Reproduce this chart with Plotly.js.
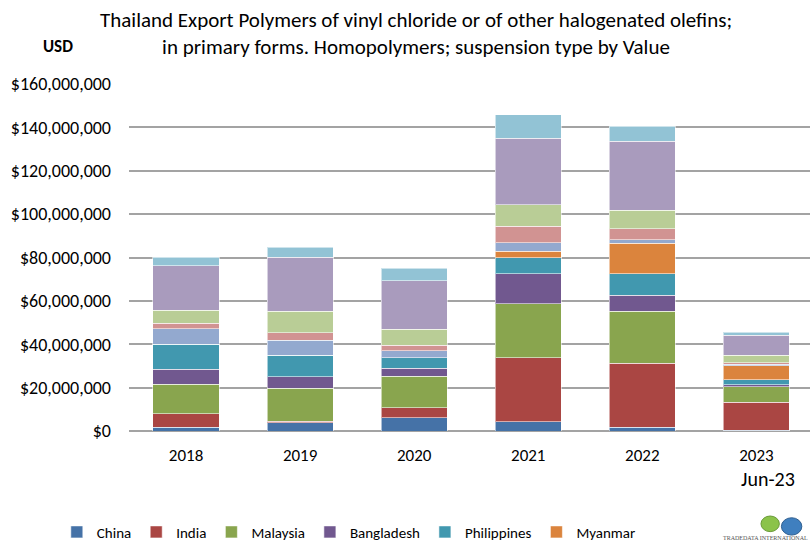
<!DOCTYPE html>
<html>
<head>
<meta charset="utf-8">
<script src="https://cdn.plot.ly/plotly-3.0.1.min.js"></script>
<style>html,body{margin:0;padding:0;background:#fff;}#chart{width:810px;height:543px;}</style>
</head>
<body>
<div id="chart"></div>
<script>
// Categories (years)
var years = ["2018", "2019", "2020", "2021", "2022", "2023"];
// Values in USD
var china       = [1700000, 3700000, 6100000, 4300000, 1800000, 300000];
var india       = [6300000, 900000, 4600000, 29500000, 29500000, 12900000];
var malaysia    = [13500000, 15200000, 14500000, 24800000, 24000000, 7200000];
var bangladesh  = [6900000, 5200000, 3700000, 14000000, 7400000, 900000];
var philippines = [11500000, 10000000, 4900000, 7400000, 9800000, 2300000];
var myanmar     = [0, 0, 0, 2800000, 14000000, 6600000];
var seriesG     = [7200000, 6800000, 3200000, 3900000, 1800000, 600000];
var seriesH     = [2600000, 3500000, 2500000, 7700000, 4900000, 700000];
var seriesI     = [5900000, 10000000, 7500000, 10000000, 8600000, 3500000];
var seriesJ     = [20600000, 24900000, 22300000, 30600000, 31900000, 9100000];
var seriesK     = [3900000, 4600000, 5700000, 10800000, 6800000, 1500000];

var names = ["China", "India", "Malaysia", "Bangladesh", "Philippines", "Myanmar",
             "Other 1", "Other 2", "Other 3", "Other 4", "Other 5"];
var data = [china, india, malaysia, bangladesh, philippines, myanmar,
            seriesG, seriesH, seriesI, seriesJ, seriesK];
var colors = ["#4572A7", "#AA4643", "#89A54E", "#71588F", "#4198AF", "#DB843D",
              "#93A9CF", "#D19392", "#B9CD96", "#A99BBD", "#92C3D5"];

var font = "Carlito, Calibri, Lato, 'Noto Sans', sans-serif";

var traces = data.map(function (vals, i) {
  return {
    type: "bar",
    name: names[i],
    x: years,
    y: vals,
    marker: {color: colors[i], line: {color: "rgba(255,255,255,0.55)", width: 1}},
    showlegend: i < 6,
    hoverinfo: "x+y+name"
  };
});

var layout = {
  width: 810, height: 543,
  margin: {l: 129, r: 0, t: 84, b: 112, autoexpand: false},
  paper_bgcolor: "#fff", plot_bgcolor: "#fff",
  barmode: "stack",
  bargap: 0.42,
  font: {family: font, size: 15, color: "#000"},
  xaxis: {
    type: "category",
    range: [-0.5, 5.47],
    showgrid: false, zeroline: false, showline: false,
    ticks: "", tickfont: {family: font, size: 17, color: "#000"},
    ticklabelstandoff: 12
  },
  yaxis: {
    range: [0, 160000000],
    tickvals: [0, 20000000, 40000000, 60000000, 80000000, 100000000, 120000000, 140000000, 160000000],
    ticktext: ["$0", "$20,000,000", "$40,000,000", "$60,000,000", "$80,000,000", "$100,000,000", "$120,000,000", "$140,000,000", "$160,000,000"],
    showgrid: true, gridcolor: "#A3A3A3", gridwidth: 1.6,
    zeroline: true, zerolinecolor: "#A3A3A3", zerolinewidth: 1.6,
    showline: false, ticks: "",
    tickfont: {family: font, size: 18, color: "#000"},
    ticklabelstandoff: 17
  },
  legend: {
    orientation: "h", x: -0.106, xanchor: "left", y: -0.244, yanchor: "top",
    font: {family: font, size: 15, color: "#000"},
    traceorder: "normal",
    itemwidth: 30, tracegroupgap: 0
  },
  annotations: [
    {text: "Thailand Export Polymers of vinyl chloride or of other halogenated olefins;<br>in primary forms. Homopolymers; suspension type by Value",
     xref: "paper", yref: "paper", x: 0.422, y: 1.146, xanchor: "center", yanchor: "middle",
     showarrow: false, font: {family: font, size: 21, color: "#000"}},
    {text: "<b>USD</b>", xref: "paper", yref: "paper", x: -0.104, y: 1.107, xanchor: "center", yanchor: "middle",
     showarrow: false, font: {family: font, size: 17, color: "#000"}},
    {text: "Jun-23", xref: "paper", yref: "paper", x: 0.938, y: -0.138, xanchor: "center", yanchor: "middle",
     showarrow: false, font: {family: "'Liberation Sans Narrow', 'Arial Narrow', " + font, size: 20, color: "#000"}},
    {text: "TRADEDATA INTERNATIONAL", xref: "paper", yref: "paper", x: 1.0, y: -0.322, xanchor: "right", yanchor: "bottom",
     showarrow: false, font: {family: "'Liberation Serif', serif", size: 6, color: "#555"}}
  ],
  shapes: [
    {type: "circle", xref: "paper", yref: "paper", x0: 0.928, x1: 0.955, y0: -0.29, y1: -0.245,
     fillcolor: "#8BC34A", line: {color: "#6A9A3A", width: 1}},
    {type: "circle", xref: "paper", yref: "paper", x0: 0.958, x1: 0.988, y0: -0.3, y1: -0.25,
     fillcolor: "#3F7FBF", line: {color: "#2E5E90", width: 1}}
  ]
};

Plotly.newPlot("chart", traces, layout, {displayModeBar: false, responsive: false});
</script>
</body>
</html>
